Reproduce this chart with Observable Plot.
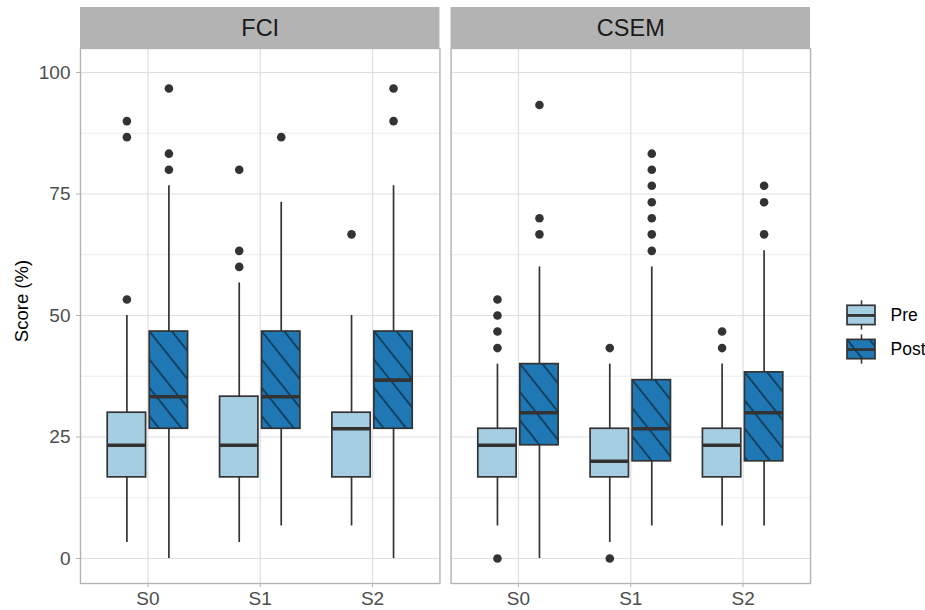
<!DOCTYPE html>
<html><head><meta charset="utf-8">
<script src="https://cdn.jsdelivr.net/npm/d3@7"></script>
<script src="https://cdn.jsdelivr.net/npm/@observablehq/plot@0.6"></script>
<style>
body{margin:0;background:#fff;font-family:"Liberation Sans",Arial,sans-serif;}
#wrap{position:relative;width:925px;height:610px;overflow:hidden;}
#strip{position:absolute;left:0;top:0;}
#main{position:absolute;left:0;top:48px;}
#legend{position:absolute;left:820px;top:297px;}
#ylab{position:absolute;left:22px;top:301px;transform:translate(-50%,-50%) rotate(-90deg);font-size:18.5px;color:#000;white-space:nowrap;}
</style></head><body>
<div id="wrap"><div id="strip"></div><div id="main"></div><div id="legend"></div><div id="ylab">Score (%)</div></div>
<script>
const facets = ["FCI", "CSEM"];
const sessions = ["S0", "S1", "S2"];
const tests = ["Pre", "Post"];
const testColors = ["#A6CEE3", "#1F78B4"];
const yTicks = [0, 25, 50, 75, 100];
const yMinorTicks = [12.5, 37.5, 62.5, 87.5];

// one entry per box
const boxFacet   = ["FCI","FCI","FCI","FCI","FCI","FCI","CSEM","CSEM","CSEM","CSEM","CSEM","CSEM"];
const boxSession = ["S0","S0","S1","S1","S2","S2","S0","S0","S1","S1","S2","S2"];
const boxTest    = ["Pre","Post","Pre","Post","Pre","Post","Pre","Post","Pre","Post","Pre","Post"];
const whiskerLow  = [3.3, 0, 3.3, 6.7, 6.7, 0,    6.7, 0, 3.3, 6.7, 6.7, 6.7];
const q1          = [16.7, 26.7, 16.7, 26.7, 16.7, 26.7,   16.7, 23.3, 16.7, 20, 16.7, 20];
const median      = [23.3, 33.3, 23.3, 33.3, 26.7, 36.7,   23.3, 30, 20, 26.7, 23.3, 30];
const q3          = [30, 46.7, 33.3, 46.7, 30, 46.7,       26.7, 40, 26.7, 36.7, 26.7, 38.3];
const whiskerHigh = [50, 76.7, 56.7, 73.3, 50, 76.7,       40, 60, 40, 60, 40, 63.3];
const outlierValues = [
  [53.3, 86.7, 90], [80, 83.3, 96.7],
  [60, 63.3, 80], [86.7],
  [66.7], [90, 96.7],
  [0, 43.3, 46.7, 50, 53.3], [66.7, 70, 93.3],
  [0, 43.3], [63.3, 66.7, 70, 73.3, 76.7, 80, 83.3],
  [43.3, 46.7], [66.7, 73.3, 76.7]
];

const FONT = "Liberation Sans, Arial, sans-serif";
const hatchAngle = 51.5, hatchSpacing = 17.6;
const fillOf = Object.fromEntries(tests.map((t, i) => [t, testColors[i]]));
const dxOf = {Pre: -21, Post: 21};
const boxInset = 25.75;

const boxes = boxFacet.map((f, i) => ({facet: f, session: boxSession[i], test: boxTest[i],
  lo: whiskerLow[i], q1: q1[i], med: median[i], q3: q3[i], hi: whiskerHigh[i]}));
const points = boxes.flatMap((b, i) => outlierValues[i].map(v => ({...b, value: v})));

function boxMarks(t) {
  const B = boxes.filter(b => b.test === t);
  const P = points.filter(p => p.test === t);
  const dx = dxOf[t];
  const m = [
    Plot.ruleX(B, {fx: "facet", x: "session", y1: "lo", y2: "q1", stroke: "#333", strokeWidth: 1.7, dx}),
    Plot.ruleX(B, {fx: "facet", x: "session", y1: "q3", y2: "hi", stroke: "#333", strokeWidth: 1.7, dx}),
    Plot.barY(B, {fx: "facet", x: "session", y1: "q1", y2: "q3", fill: fillOf[t],
      stroke: t === "Pre" ? "#333" : "none", strokeWidth: 1.7, insetLeft: boxInset, insetRight: boxInset, dx})
  ];
  if (t === "Post") {
    m.push(Plot.barY(B, {fx: "facet", x: "session", y1: "q1", y2: "q3", fill: "none",
      stroke: "#333", strokeWidth: 1.7, insetLeft: boxInset, insetRight: boxInset, dx, className: "hatch"}));
  }
  m.push(Plot.tickY(B, {fx: "facet", x: "session", y: "med", stroke: "#333", strokeWidth: 3.6,
    insetLeft: boxInset, insetRight: boxInset, dx}));
  m.push(Plot.dot(P, {fx: "facet", x: "session", y: "value", r: 4.3, fill: "#333", stroke: "none", dx}));
  return m;
}

function applyHatch(svg, prefix) {
  const ns = "http://www.w3.org/2000/svg";
  const defs = document.createElementNS(ns, "defs");
  svg.insertBefore(defs, svg.firstChild);
  svg.querySelectorAll(".hatch rect").forEach((r, i) => {
    const x = +r.getAttribute("x"), y = +r.getAttribute("y");
    const id = prefix + i;
    const p = document.createElementNS(ns, "pattern");
    p.setAttribute("id", id);
    p.setAttribute("patternUnits", "userSpaceOnUse");
    p.setAttribute("width", 400);
    p.setAttribute("height", hatchSpacing);
    p.setAttribute("patternTransform", `translate(${x},${y}) rotate(${hatchAngle})`);
    for (const ly of [0, hatchSpacing]) {
      const l = document.createElementNS(ns, "line");
      l.setAttribute("x1", 0); l.setAttribute("x2", 400);
      l.setAttribute("y1", ly); l.setAttribute("y2", ly);
      l.setAttribute("stroke", "#000"); l.setAttribute("stroke-width", 0.9);
      p.appendChild(l);
    }
    defs.appendChild(p);
    r.setAttribute("fill", `url(#${id})`);
  });
}

const fxScale = {domain: facets, paddingInner: 0.03, paddingOuter: 0, round: false};

// facet strips
const strip = Plot.plot({
  width: 820, height: 48, marginLeft: 80, marginRight: 10, marginTop: 7, marginBottom: 0,
  style: {fontFamily: FONT, background: "transparent"},
  x: {...fxScale, type: "band", axis: null},
  marks: [
    Plot.cell(facets, {x: d => d, fill: "#B3B3B3"}),
    Plot.text(facets, {x: d => d, text: d => d, fontSize: 23.5, fill: "#1A1A1A"})
  ]
});
document.getElementById("strip").appendChild(strip);

const main = Plot.plot({
  width: 820, height: 562,
  marginLeft: 80, marginRight: 10, marginTop: 0, marginBottom: 27,
  style: {fontFamily: FONT, fontSize: "19px", background: "transparent"},
  fx: {...fxScale, axis: null, label: null},
  x: {domain: sessions, type: "band", paddingInner: 0.2, paddingOuter: 0.2, round: false, label: null},
  y: {domain: [-5.14, 104.94], label: null},
  marks: [
    Plot.ruleY(yMinorTicks, {stroke: "#E3E3E3", strokeWidth: 0.7}),
    Plot.ruleY(yTicks, {stroke: "#DEDEDE", strokeWidth: 1.2}),
    Plot.ruleX(sessions, {x: d => d, stroke: "#DEDEDE", strokeWidth: 1.2}),
    ...boxMarks("Pre"),
    ...boxMarks("Post"),
    Plot.frame({stroke: "#B3B3B3", strokeWidth: 1.4}),
    Plot.axisY({ticks: yTicks, tickSize: 4, tickPadding: 6, stroke: "#B3B3B3", fill: "#4D4D4D", label: null, fontSize: 19}),
    Plot.axisX({tickSize: 4, tickPadding: 4, stroke: "#B3B3B3", fill: "#4D4D4D", label: null, fontSize: 19})
  ]
});
applyHatch(main, "hm");
document.getElementById("main").appendChild(main);

// legend
const legend = Plot.plot({
  width: 105, height: 70, marginLeft: 27, marginRight: 50, marginTop: 0, marginBottom: 0,
  style: {fontFamily: FONT, background: "transparent"},
  x: {domain: ["key"], type: "band", padding: 0, axis: null},
  y: {domain: tests, type: "band", paddingInner: 0.434, paddingOuter: 0.2435, round: false, axis: null},
  marks: [
    Plot.tickX(tests, {x: () => "key", y: d => d, stroke: "#333", strokeWidth: 1.5, insetTop: -5, insetBottom: -5}),
    Plot.cell(tests, {x: () => "key", y: d => d, fill: d => fillOf[d], stroke: d => d === "Pre" ? "#333" : "none", strokeWidth: 1.7}),
    Plot.cell(["Post"], {x: () => "key", y: d => d, fill: "none", stroke: "#333", strokeWidth: 1.7, className: "hatch"}),
    Plot.tickY(tests, {x: () => "key", y: d => d, stroke: "#333", strokeWidth: 2.8}),
    Plot.text(tests, {y: d => d, text: d => d, frameAnchor: "right", dx: 15, textAnchor: "start", fontSize: 17.5, fill: "#000"})
  ]
});
applyHatch(legend, "hl");
document.getElementById("legend").appendChild(legend);
</script>
</body></html>
